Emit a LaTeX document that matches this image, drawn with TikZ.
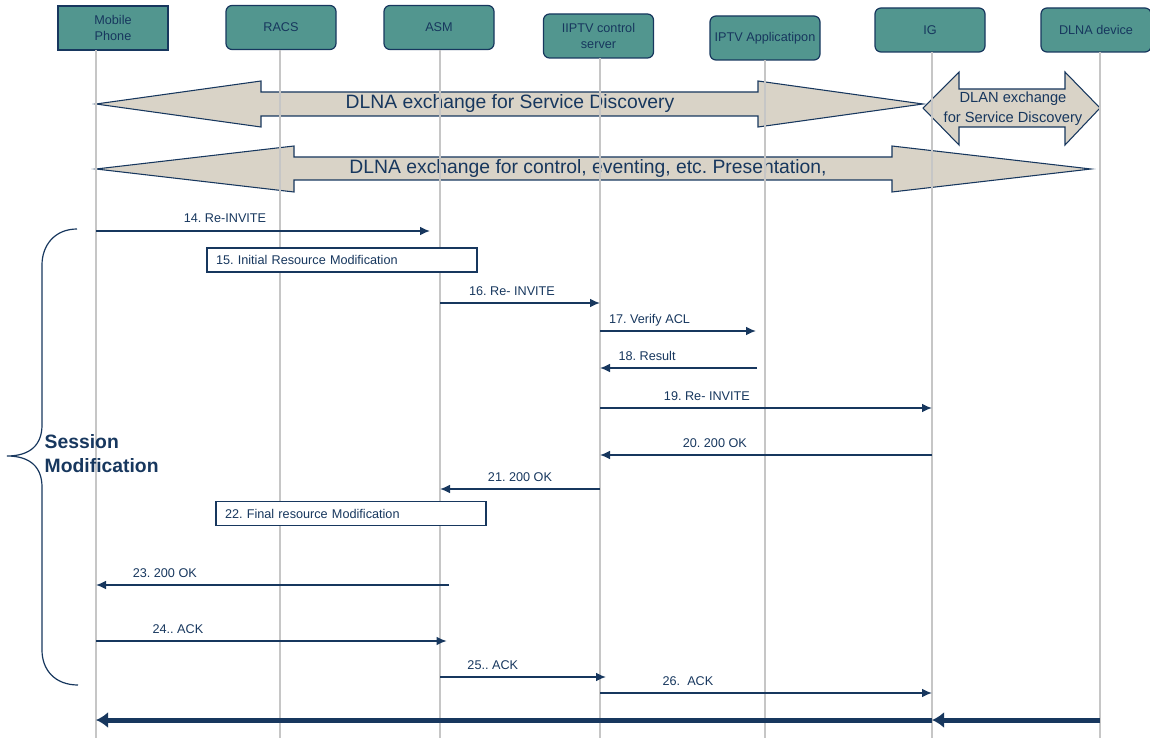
\documentclass[tikz,border=0pt]{standalone}
\usepackage{fontspec}
\setmainfont{Liberation Sans}
\usepackage{tikz}
\usetikzlibrary{arrows.meta,calc}
\definecolor{SeqNavy}{HTML}{17375E}
\definecolor{SeqTeal}{HTML}{52968F}
\definecolor{SeqSand}{HTML}{D9D3C7}
\definecolor{SeqGrey}{HTML}{C6C6C6}
\frenchspacing

\begin{document}
\begin{tikzpicture}[x=0.75pt,y=-0.75pt,>=Latex,
  entity/.style={draw=SeqNavy,fill=SeqTeal,line width=0.9pt,rounded corners=4.5pt,
    minimum width=82.5pt,minimum height=33pt,align=center,text=SeqNavy,
    font=\fontsize{9.5pt}{11.5pt}\selectfont},
  bigarrow/.style={draw=SeqNavy,fill=SeqSand,line width=0.8pt,line join=miter},
  lifeline/.style={SeqGrey,line width=1pt},
  msg/.style={SeqNavy,line width=1.1pt,-{Latex[length=7.5pt,width=6.5pt]}},
  lbl/.style={font=\fontsize{9.5pt}{11.5pt}\selectfont,text=SeqNavy,anchor=base,yshift=6pt,inner sep=0pt},
  notebox/.style={draw=SeqNavy,fill=white,line width=0.8pt,text=SeqNavy,
    font=\fontsize{9.5pt}{11.5pt}\selectfont,text width=189pt,align=left,
    inner xsep=6.75pt,inner ysep=0pt,minimum height=18pt},
  fat/.style={SeqNavy,line width=3.75pt,-{Latex[length=9pt,width=12pt]}}]
  \useasboundingbox (0,0) rectangle (1150,738);

  % participants
  \node[entity,sharp corners] (mobile) at (113,28) {Mobile\\Phone};
  \node[entity] (racs) at (281,27.5) {RACS};
  \node[entity] (asm) at (439,27.5) {ASM};
  \node[entity] (ctrl) at (598.5,36) {IIPTV control\\server};
  \node[entity] (app) at (765,38) {IPTV Applicatipon};
  \node[entity] (ig) at (930,30) {IG};
  \node[entity] (dlna) at (1096,30) {DLNA device};

  % DLNA exchanges
  \draw[bigarrow] (96,104)--(261,81)--(261,92)--(758,92)--(758,81)--(923,104)--(758,127)--(758,116)--(261,116)--(261,127)--cycle;
  \node[text=SeqNavy,font=\fontsize{14.5pt}{17pt}\selectfont] (disc) at (510,104) {DLNA exchange for Service Discovery};
  \draw[bigarrow] (96,169)--(294,146)--(294,157)--(892,157)--(892,146)--(1091,169)--(892,192)--(892,180)--(294,180)--(294,192)--cycle;
  \node[text=SeqNavy,font=\fontsize{14.5pt}{17pt}\selectfont] (ctl) at (588,169) {DLNA exchange for control, eventing, etc. Presentation,};
  \draw[bigarrow] (923,108)--(959,72)--(959,89)--(1065,89)--(1065,72)--(1100,108)--(1065,145)--(1065,127)--(959,127)--(959,145)--cycle;
  \node[text=SeqNavy,align=center,font=\fontsize{11pt}{15pt}\selectfont] (dlan) at (1013,109) {DLAN exchange\\for Service Discovery};

  % lifelines
  \foreach \nm/\lx/\ly in {mobile/96/50,racs/280/50,asm/440/50,ctrl/600/58,app/765/60,ig/932/52,dlna/1100/52}{
    \coordinate (\nm-line) at (\lx,\ly);
    \draw[lifeline] (\nm-line) -- (\nm-line |- 0,738);
  }

  % session modification
  \draw[msg,shorten >=7.5pt] (mobile-line |- 0,231) -- node[lbl,pos=.375] (m14) {14. Re-INVITE} (asm-line |- 0,231);
  \node[notebox] (n15) at (342,260) {15. Initial Resource Modification};
  \draw[msg] (asm-line |- 0,303) -- node[lbl,pos=.45] (m16) {16. Re- INVITE} (ctrl-line |- 0,303);
  \draw[msg,shorten >=6.75pt] (ctrl-line |- 0,331) -- node[lbl,pos=.30] (m17) {17. Verify ACL} (app-line |- 0,331);
  \draw[msg,shorten <=6pt] (app-line |- 0,368) -- node[lbl,pos=.715] (m18) {18. Result} (ctrl-line |- 0,368);
  \draw[msg] (ctrl-line |- 0,408) -- node[lbl,pos=.322] (m19) {19. Re- INVITE} (ig-line |- 0,408);
  \draw[msg] (ig-line |- 0,455) -- node[lbl,pos=.654] (m20) {20. 200 OK} (ctrl-line |- 0,455);
  \draw[msg] (ctrl-line |- 0,489) -- node[lbl,pos=.5] (m21) {21. 200 OK} (asm-line |- 0,489);
  \node[notebox] (n22) at (351,513.5) {22. Final resource Modification};
  \draw[msg,shorten <=-6.75pt] (asm-line |- 0,585) -- node[lbl,pos=.80] (m23) {23. 200 OK} (mobile-line |- 0,585);
  \draw[msg,shorten >=-5pt] (mobile-line |- 0,641) -- node[lbl,pos=.238] (m24) {24.. ACK} (asm-line |- 0,641);
  \draw[msg,shorten >=-4.5pt] (asm-line |- 0,677) -- node[lbl,pos=.33] (m25) {25.. ACK} (ctrl-line |- 0,677);
  \draw[msg] (ctrl-line |- 0,693) -- node[lbl,pos=.265] (m26) {26.\ \ ACK} (ig-line |- 0,693);
  \draw[fat] (ig-line |- 0,720) -- (mobile-line |- 0,720);
  \draw[fat] (dlna-line |- 0,720) -- (ig-line |- 0,720);

  % brace
  \draw[SeqNavy,line width=0.9pt] (77,229) .. controls (55,229) and (42,245) .. (42,265) -- (42,425)
    .. controls (42,445) and (30,456) .. (7,456) .. controls (30,456) and (42,467) .. (42,487) -- (42,650)
    .. controls (42,670) and (55,685) .. (78,685);
  \node[anchor=west,align=left,text=SeqNavy,font=\bfseries\fontsize{14.5pt}{18pt}\selectfont] (sess) at (40,454) {Session\\Modification};
\end{tikzpicture}
\end{document}
